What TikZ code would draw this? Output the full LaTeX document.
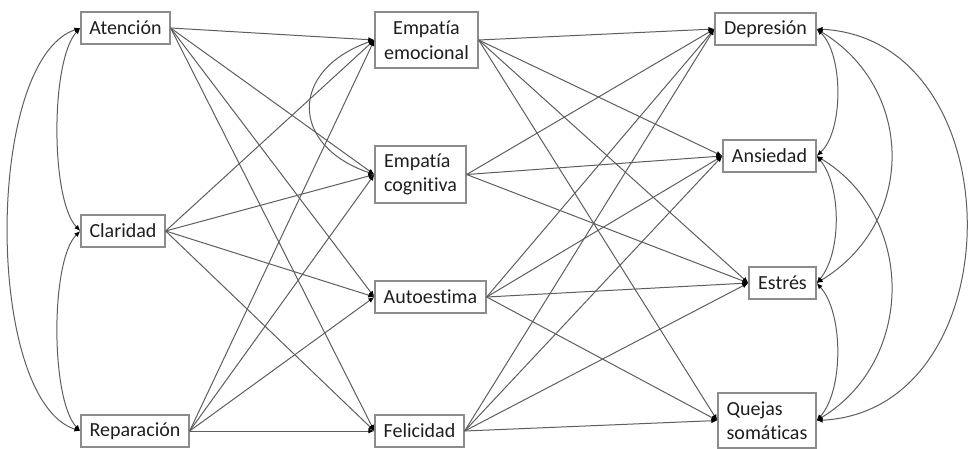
\documentclass[tikz,border=0pt]{standalone}
\usepackage{fontspec}
\setmainfont{Carlito}[Ligatures=NoCommon]
\usetikzlibrary{arrows.meta}
\definecolor{boxc}{HTML}{8C8C8C}
\definecolor{linec}{HTML}{5E5E5E}
\definecolor{txtc}{HTML}{1E1E1E}
\begin{document}
\begin{tikzpicture}[x=1pt,y=-1pt,
  var/.style={draw=boxc, line width=1.3pt, text=txtc, inner sep=0pt,
    font=\fontsize{20}{24.5}\selectfont},
  reg/.style={draw=linec, line width=1pt, -{Latex[length=6pt,width=5pt,black]}},
  cov/.style={draw=linec, line width=1pt, {Latex[length=6pt,width=5pt,black]}-{Latex[length=6pt,width=5pt,black]}}
]
\useasboundingbox (0,0) rectangle (969,448);
% left column
\node[var, minimum width=89pt, minimum height=32pt] (aten) at (125.5,28) {Atención};
\node[var, minimum width=84pt, minimum height=32pt] (clar) at (123,231) {Claridad};
\node[var, minimum width=108pt, minimum height=32pt] (repa) at (135,431) {Reparación};
% middle column
\node[var, minimum width=103pt, minimum height=56pt, align=center] (emo) at (426.5,40) {Empatía\\emocional};
\node[var, minimum width=91pt, minimum height=57pt, align=left] (cog) at (420.5,174.5) {Empatía\\cognitiva};
\node[var, minimum width=111pt, minimum height=32pt] (auto) at (430.5,297) {Autoestima};
\node[var, minimum width=89pt, minimum height=32pt] (feli) at (419.5,431) {Felicidad};
% right column
\node[var, minimum width=101pt, minimum height=32pt] (depr) at (765.5,29) {Depresión};
\node[var, minimum width=93pt, minimum height=32pt] (ansi) at (769.5,156) {Ansiedad};
\node[var, minimum width=67pt, minimum height=32pt] (estr) at (782.5,283) {Estrés};
\node[var, minimum width=98pt, minimum height=55pt, align=left] (quej) at (767,420.5) {Quejas\\somáticas};

% regressions left -> middle
\foreach \s in {aten,clar,repa}{
  \foreach \t in {emo,cog,auto,feli}{
    \draw[reg] (\s.east) -- (\t.west);
  }
}
% regressions middle -> right
\foreach \t in {depr,ansi,estr,quej}{
  \draw[reg] (emo.east) -- (\t.west);
  \draw[reg] (auto.east) -- (\t.west);
  \draw[reg] (feli.east) -- (\t.west);
}
\foreach \t in {depr,ansi,estr}{
  \draw[reg] (cog.east) -- (\t.west);
}

% covariances left
\draw[cov] (aten.west) .. controls +(-30,32) and +(-30,-31) .. (clar.west);
\draw[cov] (aten.west) .. controls +(-96,32) and +(-96,-31) .. (repa.west);
\draw[cov] (clar.west) .. controls +(-30,29) and +(-30,-31) .. (repa.west);
% covariance middle
\draw[cov] (emo.west) .. controls +(-85,30) and +(-85,-29) .. (cog.west);
% covariances right
\draw[cov] (depr.east) .. controls +(27,25) and +(27,-25) .. (ansi.east);
\draw[cov] (depr.east) .. controls +(99,60) and +(99,-60) .. (estr.east);
\draw[cov] (depr.east) .. controls +(199,10) and +(199,-10) .. (quej.east);
\draw[cov] (ansi.east) .. controls +(25,30) and +(25,-30) .. (estr.east);
\draw[cov] (ansi.east) .. controls +(99,60) and +(99,-60) .. (quej.east);
\draw[cov] (estr.east) .. controls +(27,30) and +(27,-30) .. (quej.east);
\end{tikzpicture}
\end{document}
